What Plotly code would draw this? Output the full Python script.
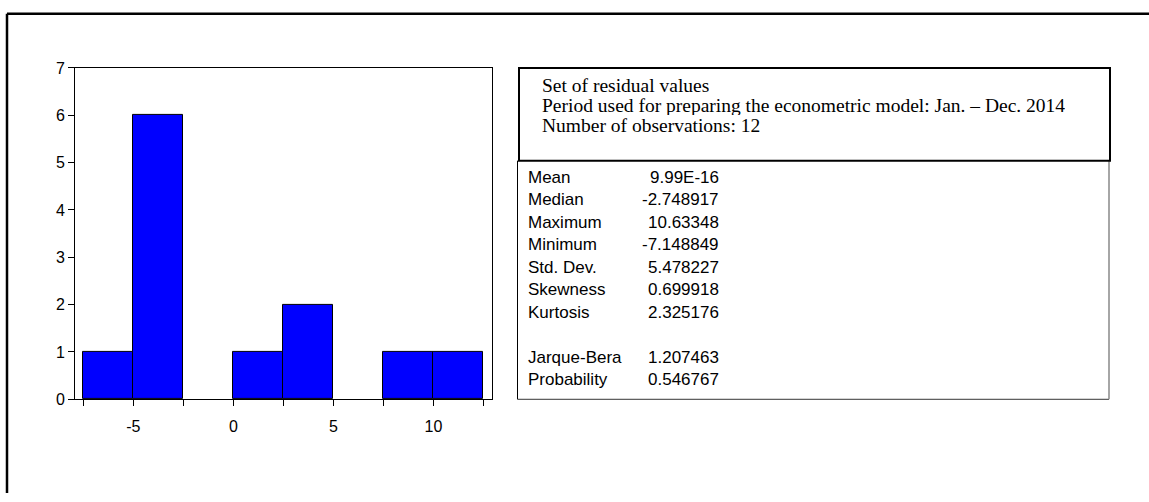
import plotly.graph_objects as go

# Histogram of residuals: bin edges and counts
bin_edges = [-7.5, -5.0, -2.5, 0.0, 2.5, 5.0, 7.5, 10.0, 12.5]
counts = [1, 6, 0, 1, 2, 0, 1, 1]

x_tick_vals = [-7.5, -5, -2.5, 0, 2.5, 5, 7.5, 10, 12.5]
x_tick_text = ["", "-5", "", "0", "", "5", "", "10", ""]
y_tick_vals = [0, 1, 2, 3, 4, 5, 6, 7]

header_lines = [
    "Set of residual values",
    "Period used for preparing the econometric model: Jan. \u2013 Dec. 2014",
    "Number of observations: 12",
]

stat_names = ["Mean", "Median", "Maximum", "Minimum", "Std. Dev.", "Skewness",
              "Kurtosis", "", "Jarque-Bera", "Probability"]
stat_values = ["9.99E-16", "-2.748917", "10.63348", "-7.148849", "5.478227",
               "0.699918", "2.325176", "", "1.207463", "0.546767"]

W, H = 1149, 502


def px(x):
    return x / W


def py(y):
    return (H - y) / H


def seg(x0, y0, x1, y1, color, width):
    return dict(type="line", xref="paper", yref="paper",
                x0=px(x0), y0=py(y0), x1=px(x1), y1=py(y1),
                line=dict(color=color, width=width))


centers = [(a + b) / 2 for a, b in zip(bin_edges[:-1], bin_edges[1:])]
widths = [b - a for a, b in zip(bin_edges[:-1], bin_edges[1:])]
# empty bins get no outline so only the axis line shows there
outline_widths = [1 if c > 0 else 0 for c in counts]

fig = go.Figure()
fig.add_trace(go.Bar(
    x=centers, y=counts, width=widths,
    marker=dict(color="#0000FF", line=dict(color="black", width=outline_widths)),
    showlegend=False, hoverinfo="skip",
))

axis_font = dict(family="Liberation Sans, Arial, sans-serif", size=16, color="black")

fig.update_layout(
    width=W, height=H,
    margin=dict(l=0, r=0, t=0, b=0),
    paper_bgcolor="white", plot_bgcolor="white",
    bargap=0,
    xaxis=dict(
        domain=[px(75), px(492)], range=[-7.92, 12.93],
        tickmode="array", tickvals=x_tick_vals, ticktext=x_tick_text,
        ticks="outside", ticklen=6, tickwidth=1, tickcolor="black",
        ticklabelstandoff=7,
        showline=True, linecolor="black", linewidth=1, mirror=True,
        showgrid=False, zeroline=False, tickfont=axis_font, fixedrange=True,
    ),
    yaxis=dict(
        domain=[py(405), py(62)], range=[0, 7],
        tickmode="array", tickvals=y_tick_vals,
        ticks="outside", ticklen=6, tickwidth=1, tickcolor="black",
        showline=True, linecolor="black", linewidth=1, mirror=True,
        showgrid=False, zeroline=False, tickfont=axis_font, fixedrange=True,
    ),
)

shapes = [
    # outer frame (top and left edges)
    seg(7, 6, 1149, 6, "black", 2.5),
    seg(7, 6, 7, 502, "black", 2.5),
    # statistics table frame
    seg(517.5, 158, 517.5, 405, "black", 1),
    seg(517.5, 405, 1109, 405, "#333333", 1),
    seg(1109, 158, 1109, 405, "#888888", 1.5),
    # description box
    dict(type="rect", xref="paper", yref="paper",
         x0=px(519), y0=py(62), x1=px(1110), y1=py(158),
         fillcolor="white", line=dict(color="black", width=2)),
]
fig.update_layout(shapes=shapes)

annotations = []
header_font = dict(family="Liberation Serif, Times New Roman, serif", size=19.5, color="black")
for i, line in enumerate(header_lines):
    annotations.append(dict(
        text=line, xref="paper", yref="paper", x=px(539.5), y=py(80 + 20.5 * i),
        xanchor="left", yanchor="middle", showarrow=False, font=header_font,
        height=20,
    ))

stat_font = dict(family="Liberation Sans, Arial, sans-serif", size=17, color="black")
row_y = 175
for name, val in zip(stat_names, stat_values):
    if name:
        annotations.append(dict(
            text=name, xref="paper", yref="paper", x=px(526), y=py(row_y),
            xanchor="left", yanchor="middle", showarrow=False, font=stat_font,
        ))
        annotations.append(dict(
            text=val, xref="paper", yref="paper", x=px(721), y=py(row_y),
            xanchor="right", yanchor="middle", showarrow=False, font=stat_font,
        ))
    row_y += 23.3
fig.update_layout(annotations=annotations)

fig.write_html("out.html", config={"displayModeBar": False})
